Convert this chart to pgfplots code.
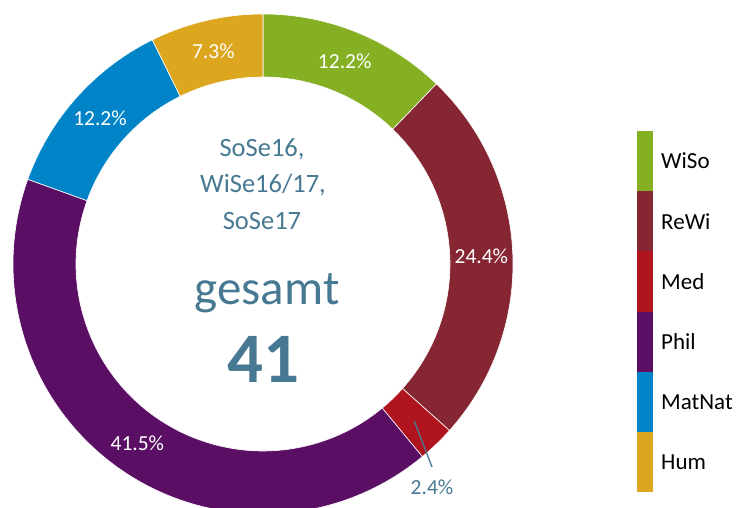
\documentclass[border=0pt]{standalone}
\usepackage{pgfplots}
\usepackage{pgfplotstable}
\pgfplotsset{compat=1.18}
\usepackage{fontspec}
\setmainfont{Carlito}

\definecolor{cWiSo}{HTML}{85B024}
\definecolor{cReWi}{HTML}{862633}
\definecolor{cMed}{HTML}{B0151F}
\definecolor{cPhil}{HTML}{5A0F64}
\definecolor{cMatNat}{HTML}{0084C7}
\definecolor{cHum}{HTML}{DCA61F}
\definecolor{txt}{HTML}{477A92}

% share in percent, clockwise from 12 o'clock
\pgfplotstableread{
name   pct  col
WiSo   12.2 cWiSo
ReWi   24.4 cReWi
Med    2.4  cMed
Phil   41.5 cPhil
MatNat 12.2 cMatNat
Hum    7.3  cHum
}\shares

\tikzset{
  pct/.style={font=\fontsize{21.5}{26}\selectfont, text=white, inner sep=0pt},
  pctout/.style={font=\fontsize{21.5}{26}\selectfont, text=txt, inner sep=0pt},
  leg/.style={font=\fontsize{23}{28}\selectfont, anchor=west, inner sep=0pt},
  mid/.style={anchor=base, text=txt, font=\fontsize{26.5}{32}\selectfont},
}

\begin{document}
\begin{tikzpicture}
\useasboundingbox (0,0) rectangle (738pt,508pt);
\begin{axis}[
  at={(0,0)}, anchor=origin,
  x=1pt, y=1pt,
  xmin=0, xmax=738, ymin=0, ymax=508,
  enlargelimits=false,
  hide axis,
  clip=false,
]
\pgfmathsetmacro\cum{0}
\pgfplotsforeachungrouped \i in {0,...,5}{%
  \pgfplotstablegetelem{\i}{pct}\of\shares \let\p\pgfplotsretval
  \pgfplotstablegetelem{\i}{col}\of\shares \let\c\pgfplotsretval
  \pgfplotstablegetelem{\i}{name}\of\shares \let\n\pgfplotsretval
  \pgfmathsetmacro\aA{90-3.6*\cum}
  \pgfmathsetmacro\aB{90-3.6*(\cum+\p)}
  \pgfmathsetmacro\aM{(\aA+\aB)/2}
  \pgfmathsetmacro\ly{377-60.17*\i}
  \pgfmathsetmacro\lyb{\ly-60.17}
  \pgfmathsetmacro\lym{\ly-30.08}
  \edef\temp{%
    \noexpand\fill[\c, draw=white, line width=0.6pt]
      ([shift={(\aA:250pt)}]axis cs:263,244) arc[start angle=\aA, end angle=\aB, radius=250pt]
      -- ([shift={(\aB:187pt)}]axis cs:263,244) arc[start angle=\aB, end angle=\aA, radius=187pt] -- cycle;
    \ifnum\i=2
      \noexpand\draw[txt, line width=1.3pt] ([shift={(\aM:218pt)}]axis cs:263,244) -- (axis cs:432,41);
      \noexpand\node[pctout] at (axis cs:432,21) {\p\noexpand\%};
    \else
      \noexpand\node[pct] at ([shift={(\aM:218.5pt)}]axis cs:263,244) {\p\noexpand\%};
    \fi
    \noexpand\fill[\c] (axis cs:637,\ly) rectangle (axis cs:653,\lyb);
    \noexpand\node[leg] at (axis cs:661,\lym) {\n};
  }\temp
  \pgfmathsetmacro\cum{\cum+\p}
}
\node[mid] at (axis cs:262,351) {SoSe16,};
\node[mid] at (axis cs:263,315) {WiSe16/17,};
\node[mid] at (axis cs:262,278) {SoSe17};
\node[anchor=base, text=txt, font=\fontsize{49}{58}\selectfont] at (axis cs:267,203) {gesamt};
\node[anchor=base, text=txt, font=\fontsize{71}{84}\selectfont\bfseries] at (axis cs:263,125) {41};
\end{axis}
\end{tikzpicture}
\end{document}
